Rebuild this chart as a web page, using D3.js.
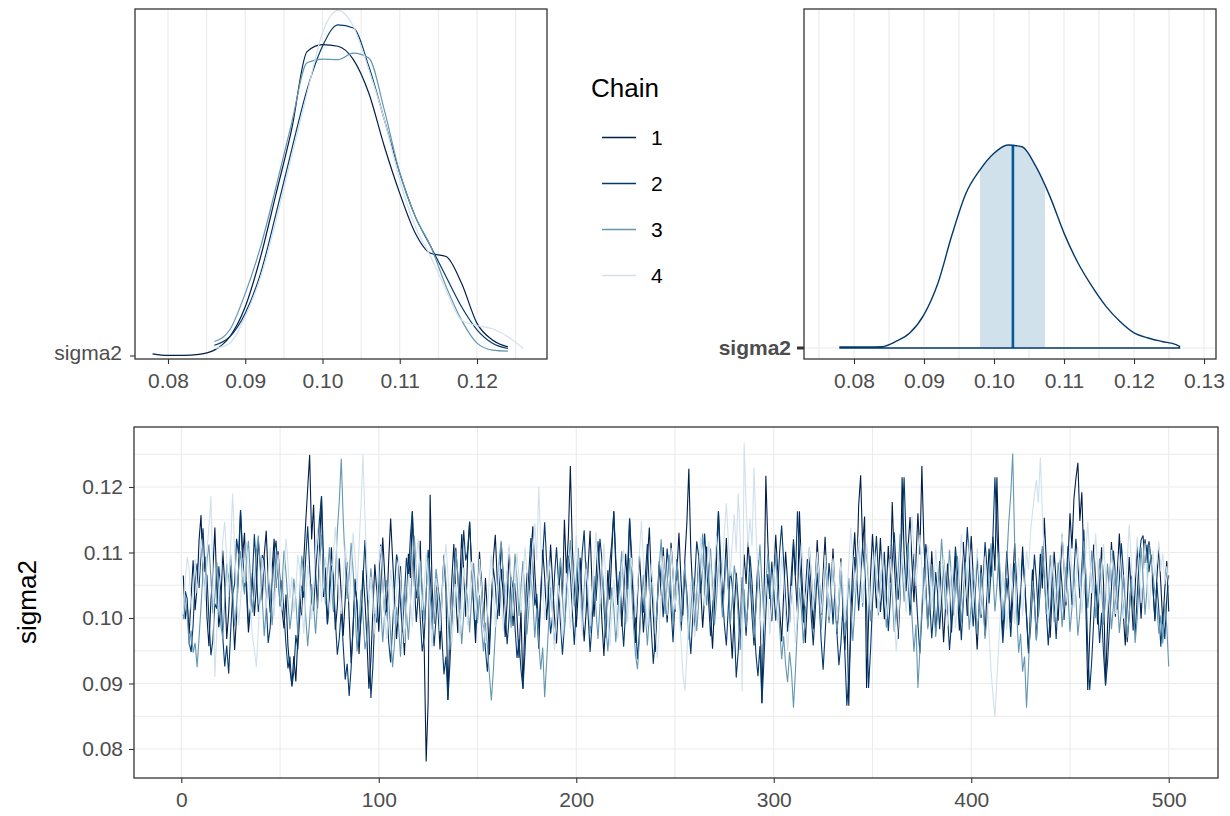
<!DOCTYPE html>
<html>
<head>
<meta charset="utf-8">
<script src="https://cdn.jsdelivr.net/npm/d3@7"></script>
<style>
  body { margin: 0; background: #fff; }
  svg text { font-family: "Liberation Sans", Arial, sans-serif; }
</style>
</head>
<body>
<svg id="chart" width="1230" height="816"></svg>
<script>
// ---------------- DATA ----------------
const chainNames = ["1", "2", "3", "4"];
const chainColors = ["#011f4b", "#03396c", "#6497b1", "#d1e1ec"];

// per-chain density (top left), on a shared grid of sigma2 values
const densX = [0.078, 0.080, 0.082, 0.084, 0.086, 0.088, 0.090, 0.092, 0.094, 0.096, 0.098, 0.100, 0.102, 0.104, 0.106, 0.108, 0.110, 0.112, 0.114, 0.116, 0.118, 0.120, 0.122, 0.124, 0.126];
const densChain1 = [0.4, 0.1, 0.1, 0.3, 1.1, 3.6, 9.2, 18.6, 30.4, 42.3, 56.9, 58.2, 57.9, 55.4, 49.1, 39.2, 30.4, 23.0, 19.2, 18.6, 13.6, 6.1, 3.0, 1.7, null];
const densChain2 = [null, null, null, null, 2.0, 3.6, 8.0, 15.5, 26.7, 38.5, 49.8, 57.9, 61.9, 61.3, 54.1, 44.2, 34.2, 26.1, 20.5, 14.8, 9.2, 4.9, 2.4, 1.4, null];
const densChain3 = [null, null, null, null, 2.7, 4.9, 11.7, 20.5, 31.7, 43.5, 54.8, 55.5, 55.4, 56.6, 55.7, 46.0, 34.2, 26.1, 20.5, 13.0, 6.7, 2.4, 1.1, 0.9, null];
const densChain4 = [null, null, null, null, 1.4, 2.4, 7.4, 14.8, 25.4, 37.3, 49.1, 60.4, 64.6, 61.6, 53.5, 44.2, 32.9, 24.2, 18.6, 12.3, 6.7, 5.7, 5.1, 3.6, 1.4];

// pooled density (top right) + interval
const areaX = [0.078, 0.080, 0.082, 0.084, 0.086, 0.088, 0.090, 0.092, 0.094, 0.096, 0.098, 0.100, 0.102, 0.104, 0.106, 0.108, 0.110, 0.112, 0.114, 0.116, 0.118, 0.120, 0.122, 0.124, 0.126, 0.1265];
const areaDens = [0.3, 0.3, 0.3, 0.4, 1.9, 4.4, 9.7, 18.9, 32.9, 45.0, 51.8, 56.6, 59.0, 58.5, 52.7, 44.0, 33.4, 24.7, 17.9, 12.1, 7.7, 4.4, 2.9, 1.9, 1.0, 0.5];
const ciLow = 0.098;
const ciHigh = 0.1073;
const median = 0.1027;

// trace values, sigma2 x 10000, iterations 1..500
const chain1 = [
1065,998,1021,976,1034,1088,1012,1047,1119,1157,1063,1094,1001,957,1026,1072,1138,1045,986,1017,1103,1052,968,1009,1081,
1024,951,1003,1076,1164,1092,1130,1041,978,1012,1069,1003,1047,1118,1082,1027,1096,1133,1061,1008,1074,1121,1046,1102,1058,
1013,984,1036,958,921,897,942,903,968,1029,1004,1087,1146,1198,1249,1120,1173,1069,1015,1108,1186,1032,1077,991,1043,
1108,1054,982,1017,1091,1036,973,1029,1085,1002,931,988,1060,1017,945,1004,1073,1026,967,892,936,1011,1082,1040,979,
1045,1123,1066,1009,1087,1152,1090,1031,968,1014,1079,996,943,1021,1098,1061,1163,1052,994,1037,1118,1006,955,781,873,
1188,1047,991,1062,1014,952,1030,1095,1041,875,987,1059,1113,1034,977,1050,1128,1071,1002,1096,1147,1083,1019,962,1038,
1101,1045,986,1061,1009,944,1018,1090,1127,1057,1003,1075,1036,971,1024,1106,1049,988,1053,1002,939,1012,892,996,1069,
1024,1093,1140,1071,1015,953,1038,1104,1062,997,1044,1112,1055,1001,961,1027,1086,1031,1150,1068,1124,1232,1108,1047,986,
1039,1092,1021,964,1010,1077,1133,1049,1002,1061,1117,1065,995,942,1006,1073,1028,1101,1163,1079,1020,1064,987,1036,1098,
1044,1152,1083,1013,962,1031,1095,1042,978,1026,1089,1138,1060,1005,948,1017,1081,1034,1108,1051,993,1040,1115,1067,1009,
1072,1130,1059,1004,1091,1145,1228,1102,1038,981,1027,1093,1046,985,1033,1109,1062,1007,953,1020,1084,1163,1071,1015,1058,
1122,1046,990,938,1011,1069,1025,963,1030,1097,1052,1118,1066,1004,958,1026,1088,1035,870,1011,1217,1116,1048,995,1060,
1127,1071,1013,964,1035,1101,1056,992,1047,1113,1058,1008,1163,1077,1019,962,1028,1094,1043,983,1051,1119,1062,1005,1068,
1124,1052,997,1045,1106,1038,976,1029,1091,1014,951,1022,866,1003,1079,1131,1062,1172,1218,1109,1155,893,996,1064,1128,
1073,1015,1058,1122,1061,998,1043,1110,1054,1177,1086,1029,968,1036,1215,1098,1041,1107,1154,1083,1024,1089,1160,1097,1232,
1118,1050,987,1034,1102,1047,978,1021,1087,1029,963,1017,1083,1040,978,1032,1095,1038,981,1044,1116,1058,1003,1069,1125,
1064,1008,952,1019,1081,1032,973,1041,1106,1063,1124,1072,1215,1090,1031,975,1039,1102,1049,992,1057,1114,1050,989,1046,
1109,1052,1001,946,1013,1074,1027,966,1035,1098,1045,1153,1087,1023,970,1039,1101,1054,996,1062,1127,1076,1019,1088,1160,
1106,1182,1213,1237,1148,1192,1085,1024,890,973,1041,1112,1055,990,1047,1108,1053,897,986,1049,1116,1060,1002,1071,1129,
1065,1006,958,1024,1093,1038,981,1046,1111,1057,999,1064,1120,1084,1117,1092,1048,995,1061,1108,1052,991,1043,1087,1010
];
const chain2 = [
1003,1041,1029,962,948,990,1057,1083,1046,1102,1137,1071,1065,998,943,967,1022,1014,1079,1040,971,926,958,915,980,
1036,1052,1121,1098,1165,1103,1047,1055,991,1013,1060,1128,1074,1009,1031,1096,1088,1024,962,985,1043,1100,1118,1067,1019,
1058,1006,960,923,941,895,918,974,952,1004,1049,1031,1092,1140,1076,1023,1011,1069,1109,1152,1186,1094,1042,990,1027,
1080,1063,998,944,969,1012,957,906,930,881,924,985,1048,1024,962,1001,1057,1119,1045,987,878,925,1006,993,1061,
1112,1058,1003,1019,964,932,987,1046,1097,1081,1021,978,1035,1092,1063,1124,1163,1087,1030,1052,998,949,970,1036,1104,
1068,1011,957,1000,1047,1023,968,914,941,875,929,996,1058,1107,1062,1013,1079,1134,1088,1103,1147,1075,1024,981,1036,
1090,1059,1003,952,918,963,1025,1076,1051,998,1042,1115,1067,1008,960,1001,1063,1044,985,939,967,921,892,946,1013,
1071,1122,1080,1019,1037,983,1029,1092,1146,1085,1022,976,1003,1064,1108,1057,991,944,988,1041,1095,1068,1010,959,1017,
1085,1046,1099,1134,1061,1005,948,992,1053,1026,1077,1121,1089,1018,970,1029,1084,1116,1163,1092,1036,1071,1000,956,1012,
1079,1152,1098,1040,995,937,979,1033,1008,1066,1113,1045,982,930,969,1024,1087,1055,1001,1048,1106,1072,1015,963,1027,
1090,1035,980,1021,1068,1039,987,945,1002,1059,1117,1094,1038,1076,1129,1083,1026,972,1013,1061,1108,1163,1097,1041,990,
958,1017,1074,1049,992,909,948,1006,1062,1025,973,1031,1095,1054,1000,944,911,957,870,933,1008,1067,1029,1086,1043,
996,1044,1102,1141,1087,1030,979,1016,1073,1120,1065,1163,1101,1048,993,1038,1090,1057,1001,958,1010,1069,1027,966,921,
975,1032,1084,1049,990,1043,977,928,961,1015,947,866,910,972,1036,1093,1064,1011,1058,1112,1071,1019,893,950,1023,
1079,1125,1066,1009,1047,1101,1034,980,1027,1085,1131,1074,1028,1067,1140,1215,1118,1061,1004,1052,1098,1046,991,946,1005,
1060,1113,1082,1024,969,1012,1070,1037,983,1031,1089,1056,1003,951,994,1052,1109,1073,1018,966,1026,1081,1139,1090,1034,
987,1035,1094,1048,1000,1055,1116,1076,1022,1068,1127,1215,1133,1073,1015,962,1008,1061,1025,971,1027,1084,1047,990,1038,
1093,1060,1005,951,982,1040,1097,1058,1002,1047,1105,1068,1011,958,1005,1062,1021,968,1030,1088,1049,997,1052,1110,1074,
1020,1069,1121,1082,1030,1079,1135,1057,951,890,934,995,1051,1016,962,1008,945,897,931,987,1046,1103,1068,1013,1058,
1114,1071,1017,963,1006,1065,1024,975,1032,1090,1119,1126,1084,1112,1070,1097,1045,999,1054,1011,956,1008,968,1030,1065
];
const chain3 = [
998,1035,1004,959,981,947,962,925,970,1019,1071,1043,1088,1112,1060,1007,1031,1085,1049,990,968,1026,1083,1054,1097,
1046,987,1021,1074,1102,1057,1036,1093,1118,1062,1008,1044,1101,1126,1073,1029,972,1015,1067,1031,989,1036,1092,1071,1017,
1049,1103,1070,1025,983,1012,1060,1028,974,1039,1095,1066,1003,957,996,1052,1019,976,1024,1080,1127,1075,1021,1066,1108,
1052,1009,1061,1133,1178,1243,1150,1082,1029,1066,1115,1073,1012,949,987,1043,1005,952,971,1030,1076,1041,985,1023,1069,
1016,963,1008,1058,1031,974,925,963,1017,989,941,1000,1048,1011,967,1020,1079,1126,1068,1033,1087,1049,995,1041,1092,
1038,982,1026,1075,1048,993,1039,1097,1056,1002,951,998,1050,1103,1069,1012,960,1006,1052,1027,978,1030,1084,1045,992,
1035,987,949,993,958,914,874,919,977,1034,1090,1118,1061,1024,1072,1039,985,1043,1098,1060,1003,1048,1087,1030,975,
1013,1066,1028,970,1015,964,921,955,879,932,990,1047,1006,958,1001,1058,1092,1034,979,1027,1081,1119,1063,1018,1061,
1107,1050,996,1043,1086,1032,977,1022,1064,1011,968,1019,1075,1040,984,949,998,1047,1016,963,1004,1058,1102,1046,990,
1037,1091,1045,988,944,922,968,1024,1066,1009,958,1003,1055,1031,976,1021,1078,1120,1059,1006,1052,1097,1044,991,1033,
1086,1051,994,1038,1083,1025,967,1010,1062,1036,980,1024,1079,1129,1072,1019,1058,1106,1046,989,1027,1082,1059,1001,1045,
1093,1047,990,1031,1080,1057,1003,951,998,1044,986,1020,1071,1026,970,1012,1063,1112,1054,1002,1049,1098,1061,1008,1052,
1099,1043,984,937,972,929,902,948,917,863,921,989,1046,1012,961,1007,1058,1107,1068,1015,1057,1093,1040,982,1028,
1081,1047,992,1036,1088,1032,978,1014,1069,1028,972,1006,1061,1019,965,1011,1064,1120,1073,1017,1059,1108,1050,995,1040,
1095,1061,1004,1046,1097,1043,985,1027,1084,1039,979,1016,1072,1128,1083,1025,1068,1114,1058,1001,948,990,893,951,1018,
1077,1040,983,1024,1082,1029,971,1009,1066,1121,1070,1013,1051,1104,1062,1004,1043,1095,1047,992,1031,1085,1039,982,1020,
1074,1033,976,1014,1069,1026,968,1003,1058,1114,1068,1010,1048,1100,1053,997,1034,1088,1146,1188,1251,1112,1009,947,976,
918,941,863,927,999,1057,1022,966,1008,1063,1110,1062,1005,1043,1096,1052,994,1031,1085,1044,986,1022,1078,1036,979,
1016,1070,1031,973,1008,1064,1118,1073,1015,1052,1103,1058,1000,1039,1091,1047,990,1028,1083,1040,983,1019,1074,1033,977,
1012,1066,1029,970,1005,1060,1021,962,998,1053,1108,1062,1005,1044,1112,1089,1067,1038,1016,976,1004,961,1024,988,926
];
const chain4 = [
1005,1058,1093,1074,1012,1046,1090,1038,1071,1120,1082,1027,1104,1138,1186,1062,910,983,1041,1068,1119,1147,1088,1032,1112,
1190,1101,1046,989,1025,1079,1054,1116,1072,1018,973,951,925,981,1036,1092,1067,1015,1060,1108,1049,1003,1058,1097,1043,
1012,1067,1121,1084,1030,1063,1009,1042,1096,1075,1020,976,1028,1081,1053,998,1047,1102,1136,1079,1024,1049,1093,1061,1007,
1045,1098,1139,1087,1034,1006,1059,1112,1078,1025,1068,1130,1092,1041,1109,1173,1249,1155,1079,1027,1063,1018,975,1029,1084,
1110,1057,1001,968,1016,1074,1046,991,1038,1093,1061,1008,962,1011,1067,1030,987,1039,1095,1120,1064,1012,1048,1100,1058,
1003,955,1004,1061,1035,980,1027,1083,1113,1068,1017,961,998,1052,1026,974,1020,1077,1043,989,1031,1086,1054,997,1036,
1090,1048,994,962,1009,1064,1097,1041,986,1025,1081,1037,980,1022,1074,1112,1059,1003,1046,1099,1063,1008,1054,1108,1071,
1018,1049,1101,1145,1088,1200,1116,1052,997,1034,1089,1060,1005,951,994,1050,1021,966,1011,1068,1037,983,1024,1078,1126,
1082,1027,972,1019,1075,1043,988,1030,1085,1131,1076,1021,1060,1114,1055,999,957,1003,1059,1024,969,1015,1071,1104,1050,
994,1036,1092,1057,1001,1046,1099,1148,1086,1030,985,1029,1083,1045,990,939,981,1038,1095,1060,1004,1050,1107,1068,1013,
1057,1021,967,915,889,943,1003,1056,1024,971,1020,1078,1123,1074,1018,1062,1117,1081,1027,1073,1126,1089,1036,1078,1131,
1175,1120,1064,1115,1158,1101,1190,1124,888,1267,1171,1108,1152,1109,1230,1133,1069,1016,960,1008,1063,1030,975,1021,1079,
1046,992,1037,1094,1059,1004,950,993,1049,1015,962,1008,1064,1115,1071,1018,1057,1109,1066,1012,1048,1101,1062,1007,1043,
1096,1058,1002,1039,1091,1050,995,1032,1086,1049,993,1030,1083,1138,1092,1037,1075,1124,1079,1023,1061,1114,1068,1012,1050,
1103,1064,1008,1046,1098,1055,999,1036,1090,1058,1003,949,990,1045,1101,1063,1009,1047,1100,1156,1104,1049,1086,1127,1075,
1019,1058,1111,1070,1014,1052,1105,1067,1011,1049,1096,1043,988,1027,1081,1039,984,1021,1076,1128,1080,1025,1063,1116,1072,
1016,1054,1107,1061,1005,1042,1094,1037,979,921,882,849,907,963,1019,1071,1034,982,1028,1083,1045,991,1037,1092,1058,
1003,1049,1102,1074,1130,1161,1188,1211,1176,1245,1160,1095,1042,998,1044,1097,1056,1001,1039,1093,1131,1079,1024,1063,1116,
1072,1016,1055,1108,1063,1007,1045,1098,1147,1093,1038,1081,1129,1076,1021,1060,1113,1068,1012,1051,1104,1062,1006,1044,1097,
1055,999,1036,1089,1143,1090,1034,1072,1124,1079,1023,1061,1114,1068,1012,1050,1103,1064,1085,1117,1071,1098,1052,1079,1050
];
const traces = [chain1, chain2, chain3, chain4];
const densChains = [densChain1, densChain2, densChain3, densChain4];

// ticks
const densTicks = [0.08, 0.09, 0.10, 0.11, 0.12];
const densMinor = [0.085, 0.095, 0.105, 0.115, 0.125];
const areaTicks = [0.08, 0.09, 0.10, 0.11, 0.12, 0.13];
const areaMinor = [0.075, 0.085, 0.095, 0.105, 0.115, 0.125];
const traceXTicks = [0, 100, 200, 300, 400, 500];
const traceXMinor = [50, 150, 250, 350, 450];
const traceYTicks = [0.08, 0.09, 0.10, 0.11, 0.12];
const traceYMinor = [0.085, 0.095, 0.105, 0.115, 0.125];

// ---------------- STYLE ----------------
const svg = d3.select("#chart");
const tickFont = 21;
const titleFont = 26;
const textGrey = "#4d4d4d";
const frameCol = "#333333";
const gridCol = "#ebebeb";
const fmt = d3.format(".2f");

function styleAxis(g) {
  g.select(".domain").remove();
  g.selectAll(".tick line").attr("stroke", frameCol).attr("stroke-width", 1.1);
  g.selectAll(".tick text")
    .attr("font-size", tickFont)
    .attr("fill", textGrey)
    .attr("font-family", "Liberation Sans, Arial, sans-serif");
}

function frame(x0, y0, x1, y1) {
  svg
    .append("rect")
    .attr("x", x0)
    .attr("y", y0)
    .attr("width", x1 - x0)
    .attr("height", y1 - y0)
    .attr("fill", "none")
    .attr("stroke", frameCol)
    .attr("stroke-width", 1.3);
}

function vGrid(scale, vals, y0, y1) {
  svg
    .append("g")
    .selectAll("line")
    .data(vals)
    .join("line")
    .attr("x1", (d) => scale(d))
    .attr("x2", (d) => scale(d))
    .attr("y1", y0)
    .attr("y2", y1)
    .attr("stroke", gridCol)
    .attr("stroke-width", 1.1);
}

function hGrid(scale, vals, x0, x1) {
  svg
    .append("g")
    .selectAll("line")
    .data(vals)
    .join("line")
    .attr("x1", x0)
    .attr("x2", x1)
    .attr("y1", (d) => scale(d))
    .attr("y2", (d) => scale(d))
    .attr("stroke", gridCol)
    .attr("stroke-width", 1.1);
}

/* ------------------------------ TOP LEFT: density by chain ------------------------------ */
const tl = { left: 135, right: 547, top: 9, bottom: 359 };
const xDens = d3.scaleLinear().domain([0.07573, 0.12906]).range([tl.left, tl.right]);
const yDens = d3.scaleLinear().domain([0, 65]).range([356, 8.25]);

vGrid(xDens, densMinor.concat(densTicks), tl.top, tl.bottom);

const densLine = d3
  .line()
  .defined((d) => d[1] !== null)
  .x((d) => xDens(d[0]))
  .y((d) => yDens(d[1]))
  .curve(d3.curveMonotoneX);

densChains.forEach((vals, c) => {
  svg
    .append("path")
    .attr("d", densLine(densX.map((v, i) => [v, vals[i]])))
    .attr("fill", "none")
    .attr("stroke", chainColors[c])
    .attr("stroke-width", 1.2);
});

frame(tl.left, tl.top, tl.right, tl.bottom);

svg
  .append("g")
  .attr("transform", `translate(0,${tl.bottom})`)
  .call(d3.axisBottom(xDens).tickValues(densTicks).tickFormat(fmt).tickSize(5).tickPadding(9))
  .call(styleAxis);

svg
  .append("line")
  .attr("x1", tl.left - 5)
  .attr("x2", tl.left)
  .attr("y1", 356)
  .attr("y2", 356)
  .attr("stroke", frameCol)
  .attr("stroke-width", 1.1);
svg
  .append("text")
  .attr("x", tl.left - 13)
  .attr("y", 354 + 0.3 * tickFont)
  .attr("text-anchor", "end")
  .attr("font-size", tickFont)
  .attr("fill", textGrey)
  .text("sigma2");

/* ------------------------------ LEGEND ------------------------------ */
const legend = svg.append("g");
legend
  .append("text")
  .attr("x", 591)
  .attr("y", 97)
  .attr("font-size", titleFont)
  .attr("fill", "#000")
  .text("Chain");
chainNames.forEach((name, i) => {
  const cy = 137.5 + i * 46;
  legend
    .append("line")
    .attr("x1", 602)
    .attr("x2", 636)
    .attr("y1", cy)
    .attr("y2", cy)
    .attr("stroke", chainColors[i])
    .attr("stroke-width", 1.6);
  legend
    .append("text")
    .attr("x", 651)
    .attr("y", cy + 0.36 * tickFont)
    .attr("font-size", tickFont)
    .attr("fill", "#000")
    .text(name);
});

/* ------------------------------ TOP RIGHT: pooled density with interval ------------------------------ */
const tr = { left: 804, right: 1216, top: 9, bottom: 359 };
const xArea = d3.scaleLinear().domain([0.07286, 0.13171]).range([tr.left, tr.right]);
const yArea = d3.scaleLinear().domain([0, 100]).range([348, 4]);

vGrid(xArea, areaMinor.concat(areaTicks), tr.top, tr.bottom);
hGrid(yArea, [0], tr.left, tr.right);

const areaPts = areaX.map((v, i) => [v, areaDens[i]]);
const areaGen = d3
  .area()
  .x((d) => xArea(d[0]))
  .y0(yArea(0))
  .y1((d) => yArea(d[1]))
  .curve(d3.curveMonotoneX);

svg.append("clipPath").attr("id", "dens-clip").append("path").attr("d", areaGen(areaPts));
const inner = svg.append("g").attr("clip-path", "url(#dens-clip)");
inner
  .append("rect")
  .attr("x", xArea(ciLow))
  .attr("width", xArea(ciHigh) - xArea(ciLow))
  .attr("y", tr.top)
  .attr("height", tr.bottom - tr.top)
  .attr("fill", "#d1e1ec");
inner
  .append("line")
  .attr("x1", xArea(median))
  .attr("x2", xArea(median))
  .attr("y1", yArea(0))
  .attr("y2", tr.top)
  .attr("stroke", "#005b96")
  .attr("stroke-width", 2.6);

svg
  .append("path")
  .attr("d", areaGen(areaPts))
  .attr("fill", "none")
  .attr("stroke", "#03396c")
  .attr("stroke-width", 1.4);

frame(tr.left, tr.top, tr.right, tr.bottom);

svg
  .append("g")
  .attr("transform", `translate(0,${tr.bottom})`)
  .call(d3.axisBottom(xArea).tickValues(areaTicks).tickFormat(fmt).tickSize(5).tickPadding(9))
  .call(styleAxis);

svg
  .append("line")
  .attr("x1", tr.left - 7)
  .attr("x2", tr.left)
  .attr("y1", yArea(0))
  .attr("y2", yArea(0))
  .attr("stroke", frameCol)
  .attr("stroke-width", 3);
svg
  .append("text")
  .attr("x", tr.left - 13)
  .attr("y", yArea(0) + 0.34 * tickFont)
  .attr("text-anchor", "end")
  .attr("font-size", tickFont)
  .attr("font-weight", "bold")
  .attr("fill", textGrey)
  .text("sigma2");

/* ------------------------------ BOTTOM: trace ------------------------------ */
const bt = { left: 134, right: 1218, top: 427, bottom: 778 };
const xTrace = d3.scaleLinear().domain([-23.95, 524.95]).range([bt.left, bt.right]);
const yTrace = d3.scaleLinear().domain([0.07557, 0.12916]).range([bt.bottom, bt.top]);

vGrid(xTrace, traceXMinor.concat(traceXTicks), bt.top, bt.bottom);
hGrid(yTrace, traceYMinor.concat(traceYTicks), bt.left, bt.right);

const traceLine = d3
  .line()
  .x((d, i) => xTrace(i + 1))
  .y((d) => yTrace(d / 10000));

traces.forEach((vals, c) => {
  svg
    .append("path")
    .attr("d", traceLine(vals))
    .attr("fill", "none")
    .attr("stroke", chainColors[c])
    .attr("stroke-width", 1.1);
});

frame(bt.left, bt.top, bt.right, bt.bottom);

svg
  .append("g")
  .attr("transform", `translate(0,${bt.bottom})`)
  .call(d3.axisBottom(xTrace).tickValues(traceXTicks).tickSize(5).tickPadding(9))
  .call(styleAxis);

svg
  .append("g")
  .attr("transform", `translate(${bt.left},0)`)
  .call(d3.axisLeft(yTrace).tickValues(traceYTicks).tickFormat(fmt).tickSize(5).tickPadding(6))
  .call(styleAxis);

svg
  .append("text")
  .attr("transform", `translate(${36},${602}) rotate(-90)`)
  .attr("text-anchor", "middle")
  .attr("font-size", titleFont)
  .attr("fill", "#000")
  .text("sigma2");
</script>
</body>
</html>
